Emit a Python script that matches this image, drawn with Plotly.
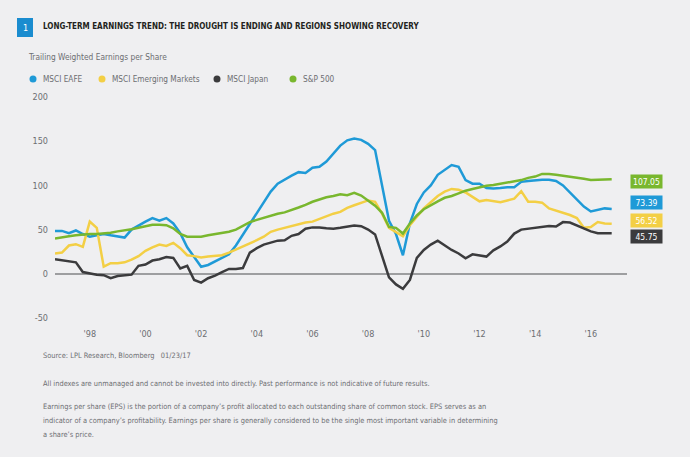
import plotly.graph_objects as go

# ---------------- data ----------------
quarters = [1996.75 + 0.25 * i for i in range(81)]

msci_eafe = [48.5, 48.5, 46, 49, 45, 42, 43.5, 45, 43.5, 42, 41, 50, 55, 59, 63, 60, 63, 57, 46, 30,
             19, 8, 10, 14, 18, 22, 32, 44, 56, 68, 80, 93, 102, 107, 111, 115, 114, 120, 121, 127,
             136, 145, 151, 153, 151.5, 147, 140, 100, 60, 45, 21, 57, 79, 92, 100, 112, 118, 123, 121, 106,
             102, 102, 97, 96.5, 97, 98, 98, 104, 105, 106, 106.5, 106.5, 105, 100, 92, 84, 76, 70.5, 72, 74,
             73.39]

msci_em = [23, 24, 32, 33.5, 30.5, 59, 52, 8, 12, 12, 13, 16, 20, 26, 30, 33, 31.5, 35, 29, 21,
           20, 18.5, 19.5, 20.5, 21, 24, 27.5, 31, 34, 38, 42, 47.5, 50, 52, 54, 56, 58, 59, 62, 65,
           68, 70, 74.5, 77.5, 80.5, 83, 81.5, 68, 52, 47, 42.5, 55, 64, 74, 81, 88, 93, 96, 95, 92,
           87, 82, 83.5, 82, 81, 83, 85, 93.5, 81.5, 81.5, 80.5, 74, 71.5, 68.5, 66.5, 63, 52, 53, 58.5, 57,
           56.52]

msci_japan = [16.5, 15.5, 14, 13, 2, 0.5, -1, -1.5, -5, -2.5, -1.5, -1, 9, 10.5, 15, 16.5, 19, 18, 6, 9,
              -7, -10, -5, -2, 2, 5.5, 5.5, 6.5, 24, 29, 33, 35, 37.5, 38, 43, 45, 51, 52.5, 52.5, 51.5,
              51, 52, 53.4, 54.5, 53.8, 50, 44.5, 20, -4, -12, -17, -7, 18, 27, 33, 37.5, 32, 27, 23, 17.5,
              22, 20.7, 19.5, 26.5, 31, 36.5, 45.5, 50, 51, 52, 53.5, 54, 53.4, 58.5, 58, 54.5, 51, 48, 45.8, 45.5,
              45.75]

sp500 = [40, 41.5, 42.5, 43.5, 44.5, 45, 45, 45.5, 46.5, 48, 49, 50.5, 52, 54, 55.5, 55.5, 55, 51.5, 45, 42,
         42, 42, 43.5, 45, 46, 47.5, 50, 54, 58.5, 61, 63.5, 66, 68, 69.5, 72, 75, 78, 81.5, 84, 86.5,
         88, 90, 89, 91.5, 88.5, 83, 77, 69, 53, 52, 45.5, 57, 66, 73, 78, 82, 86, 88, 91, 94,
         96, 98, 99.5, 100.5, 102, 103, 104.5, 106, 108.5, 110, 113, 113, 112, 111, 109.5, 108.5, 107.5, 106, 106.3, 106.6,
         107.05]

series_names = ["MSCI EAFE", "MSCI Emerging Markets", "MSCI Japan", "S&P 500"]
series_values = [msci_eafe, msci_em, msci_japan, sp500]
series_colors = ["#1f9ad7", "#f3cf45", "#3b3b3d", "#79b72e"]

x_tick_vals = [1998, 2000, 2002, 2004, 2006, 2008, 2010, 2012, 2014, 2016]
x_tick_text = ["'98", "'00", "'02", "'04", "'06", "'08", "'10", "'12", "'14", "'16"]
y_tick_vals = [-50, 0, 50, 100, 150, 200]
y_tick_text = ["-50", "0", "50", "100", "150", "200"]

title_text = "LONG-TERM EARNINGS TREND: THE DROUGHT IS ENDING AND REGIONS SHOWING RECOVERY"
subtitle_text = "Trailing Weighted Earnings per Share"
footnote_lines = [
    "Source: LPL Research, Bloomberg   01/23/17",
    "All indexes are unmanaged and cannot be invested into directly. Past performance is not indicative of future results.",
    "Earnings per share (EPS) is the portion of a company\u2019s profit allocated to each outstanding share of common stock. EPS serves as an",
    "indicator of a company\u2019s profitability. Earnings per share is generally considered to be the single most important variable in determining",
    "a share\u2019s price.",
]

# ---------------- layout geometry ----------------
W, H = 690, 457
L, R, T, B = 55, 63, 97, 139
PW, PH = W - L - R, H - T - B
NARROW = "DejaVu Sans Condensed, Liberation Sans Narrow, Arial Narrow, sans-serif"
BG = "#efeff1"
GRAY = "#6d6e71"


def px(xp):
    return (xp - L) / PW


def py(yp):
    return (H - B - yp) / PH


fig = go.Figure()
for name, vals, col in zip(series_names, series_values, series_colors):
    fig.add_trace(go.Scatter(x=quarters, y=vals, mode="lines", name=name,
                             line=dict(color=col, width=2.5), showlegend=False))

annotations = []
shapes = []

# title block
shapes.append(dict(type="rect", xref="paper", yref="paper", x0=px(17), x1=px(33), y0=py(37), y1=py(18),
                   fillcolor="#1a8ccf", line=dict(width=0)))
annotations.append(dict(text="1", x=px(25), y=py(27.5), xref="paper", yref="paper", showarrow=False,
                        font=dict(family=NARROW, size=9, color="white"), xanchor="center", yanchor="middle"))
annotations.append(dict(text="<b>" + title_text + "</b>", x=px(41), y=py(26), xref="paper", yref="paper",
                        showarrow=False, xanchor="left", yanchor="middle",
                        font=dict(family=NARROW, size=8, color="#231f20")))
annotations.append(dict(text=subtitle_text, x=px(26), y=py(57), xref="paper", yref="paper",
                        showarrow=False, xanchor="left", yanchor="middle",
                        font=dict(family=NARROW, size=8.3, color=GRAY)))

# legend (dots + labels)
legend_dot_x = [33, 102, 217, 293]
for name, col, dx in zip(series_names, series_colors, legend_dot_x):
    shapes.append(dict(type="circle", xref="paper", yref="paper",
                       x0=px(dx - 3.5), x1=px(dx + 3.5), y0=py(79 + 3.5), y1=py(79 - 3.5),
                       fillcolor=col, line=dict(width=0)))
    annotations.append(dict(text=name, x=px(dx + 8), y=py(79), xref="paper", yref="paper",
                            showarrow=False, xanchor="left", yanchor="middle",
                            font=dict(family=NARROW, size=8.2, color=GRAY)))

# end-value labels
label_shift = {"MSCI EAFE": 6, "MSCI Emerging Markets": 3, "MSCI Japan": -3, "S&P 500": -2}
for name, vals, col in zip(series_names, series_values, series_colors):
    annotations.append(dict(text=f"{vals[-1]:.2f}", x=px(646), y=vals[-1], xref="paper", yref="y",
                            yshift=label_shift[name], showarrow=False, xanchor="center", yanchor="middle",
                            bgcolor=col, borderpad=1.5, width=28,
                            font=dict(family=NARROW, size=8.5, color="white")))

# footnotes
foot_y = [355, 383, 406, 420, 434]
for txt, fy in zip(footnote_lines, foot_y):
    annotations.append(dict(text=txt, x=px(41), y=py(fy), xref="paper", yref="paper", showarrow=False,
                            xanchor="left", yanchor="middle", align="left",
                            font=dict(family=NARROW, size=7.4, color=GRAY)))

fig.update_layout(
    width=W, height=H,
    margin=dict(l=L, r=R, t=T, b=B, pad=0),
    paper_bgcolor=BG, plot_bgcolor=BG,
    showlegend=False,
    annotations=annotations, shapes=shapes,
    xaxis=dict(range=[quarters[0], 2017.3], showgrid=False, zeroline=False, showline=False,
               tickvals=x_tick_vals, ticktext=x_tick_text, ticks="", ticklabelstandoff=9,
               tickfont=dict(family=NARROW, size=9, color=GRAY), fixedrange=True),
    yaxis=dict(range=[-50, 200], showgrid=False, zeroline=True, zerolinecolor="#9d9ea0", zerolinewidth=1.5,
               showline=False, tickvals=y_tick_vals, ticktext=y_tick_text, ticks="", ticklabelstandoff=6,
               tickfont=dict(family=NARROW, size=9, color=GRAY), fixedrange=True),
)

fig.write_html("out.html", config={"displayModeBar": False},
               post_script="document.body.style.margin='0';document.body.style.background='%s';" % BG)
